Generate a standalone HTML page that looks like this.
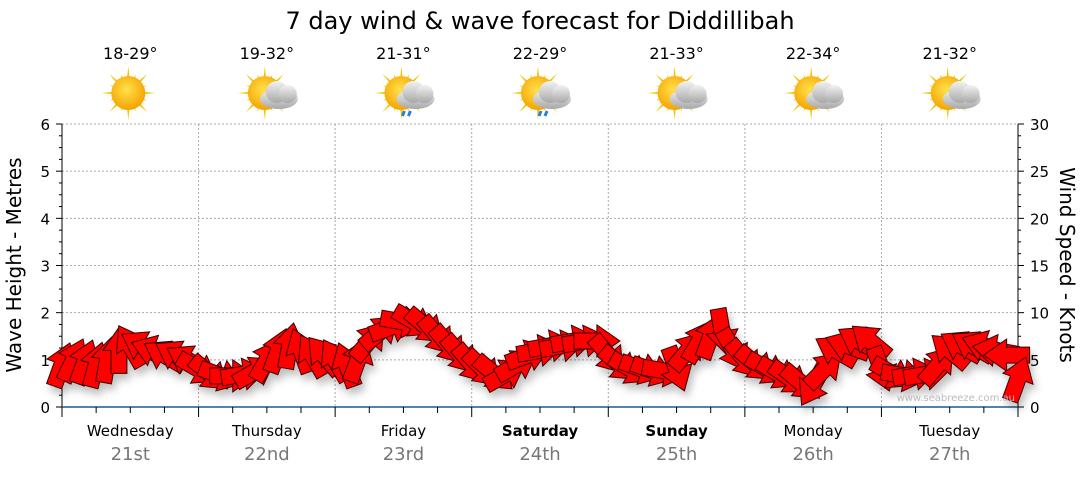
<!DOCTYPE html>
<html><head><meta charset="utf-8"><style>
body{margin:0;background:#fff;font-family:"Liberation Sans",sans-serif;}
svg text{font-family:"DejaVu Sans","Liberation Sans",sans-serif;}
</style></head><body>
<svg id="c" width="1080" height="475" viewBox="0 0 1080 475" xmlns="http://www.w3.org/2000/svg">
<defs>
<filter id="sh" x="-50%" y="-50%" width="200%" height="200%"><feDropShadow dx="3" dy="6" stdDeviation="4" flood-color="#000" flood-opacity="0.25"/></filter>
<radialGradient id="sun" cx="45%" cy="40%" r="60%"><stop offset="0" stop-color="#ffe14a"/><stop offset="1" stop-color="#f5a300"/></radialGradient>
<linearGradient id="cloud" x1="0" y1="0" x2="0" y2="1"><stop offset="0" stop-color="#f2f2f2"/><stop offset="1" stop-color="#a8a8a8"/></linearGradient>
</defs>
<text x="540" y="29" font-size="24" text-anchor="middle">7 day wind &amp; wave forecast for Diddillibah</text>
<g id="grid"></g><g id="axes"></g><g id="top"></g><g id="arrows" filter="url(#sh)"></g>
<text x="1015" y="401" font-size="10" fill="#bbb" text-anchor="end">www.seabreeze.com.au</text>
<text transform="translate(21,265) rotate(-90)" font-size="20" text-anchor="middle">Wave Height - Metres</text>
<text transform="translate(1060,265) rotate(90)" font-size="20" text-anchor="middle">Wind Speed - Knots</text>
</svg>
<script>
const days=["Wednesday","Thursday","Friday","Saturday","Sunday","Monday","Tuesday"];
const dates=["21st","22nd","23rd","24th","25th","26th","27th"];
const temps=["18-29°","19-32°","21-31°","22-29°","21-33°","22-34°","21-32°"];
const icons=["sun","cloud","rain","rain","cloud","cloud","cloud"];
const waveTicks=[0,1,2,3,4,5,6];
const windTicks=[0,5,10,15,20,25,30];
const windSpeed=[4.5,5,4.8,4.5,5,6,6.5,6.5,6,5.5,5.5,5,
4,3.5,3.3,3.3,3.5,3.8,5,6,6.5,6,5.5,5.5,
5,4.5,5,7,8,8.5,9,9,8.5,7.5,6.5,5.5,
4.5,4,3.5,3.5,4.5,5.5,6,6.5,6.5,7,7,7,
5.5,4.5,4,4,3.8,3.8,4,6,7,7.5,8,6,
5,4.5,4,3.5,3,2.5,2.3,4,6,6.5,7,7,
4,3.5,3.3,3.5,3.5,4.5,6,6.5,6.5,6.5,6,5.5,3];
const windDir=[20,25,20,15,10,0,-30,-60,-70,-60,-60,-60,
120,130,110,90,80,60,30,20,10,-20,-30,-40,
-30,-20,20,40,50,70,100,120,130,140,140,140,
140,135,130,60,60,70,80,80,80,80,80,90,
140,130,120,110,110,100,160,40,30,20,170,150,
140,130,120,120,125,130,210,45,-60,-70,-60,-50,
160,120,100,80,80,40,-50,-60,-60,-70,-80,-90,20];
const NS="http://www.w3.org/2000/svg";
const X0=62,X1=1018,Y0=407,Y1=124;
const xDay=d=>X0+d*(X1-X0)/7;
const xStep=i=>X0+i*(X1-X0)/84;
const yWave=v=>Y0-v*(Y0-Y1)/6;
const yWind=v=>Y0-v*(Y0-Y1)/30;
function mk(t,a,p){const e=document.createElementNS(NS,t);for(const k in a)e.setAttribute(k,a[k]);if(p)p.appendChild(e);return e;}
const grid=document.getElementById('grid'),axes=document.getElementById('axes'),top_=document.getElementById('top'),arr=document.getElementById('arrows');
waveTicks.forEach(v=>{
 if(v>0){const g=mk('line',{x1:X0,x2:X1,y1:yWave(v),y2:yWave(v),stroke:'#aaa','stroke-dasharray':'2,2'},grid);
 
 }
 const t=mk('text',{x:50,y:yWave(v)+6,'font-size':15,'text-anchor':'end'},axes);t.textContent=v;
 
 
});
for(let v=0;v<=6;v+=0.25){mk('line',{x1:X0-(v%1==0?6:3),x2:X0,y1:yWave(v),y2:yWave(v),stroke:'#000'},axes);}
windTicks.forEach(v=>{
 const t=mk('text',{x:1030,y:yWind(v)+6,'font-size':15},axes);t.textContent=v;
 
 
});
for(let v=0;v<=30;v+=1.25){mk('line',{x1:X1,x2:X1+(v%5==0?6:3),y1:yWind(v),y2:yWind(v),stroke:'#000'},axes);}
mk('line',{x1:X0,x2:X0,y1:Y1,y2:Y0,stroke:'#000'},axes);
mk('line',{x1:X1,x2:X1,y1:Y1,y2:Y0,stroke:'#000'},axes);
mk('line',{x1:X0,x2:X1,y1:Y0,y2:Y0,stroke:'#1f5a85','stroke-width':1.5},axes);
for(let i=0;i<=28;i++){const x=X0+i*(X1-X0)/28;mk('line',{x1:x,x2:x,y1:Y0,y2:Y0+(i%4==0?10:6),stroke:'#000'},axes);}
function icon(cx,cy,type,g){
 for(let k=0;k<16;k++){const a=k*Math.PI/8,r=k%2?20:27;mk('polygon',{points:`${cx+Math.cos(a-0.13)*12},${cy+Math.sin(a-0.13)*12} ${cx+Math.cos(a)*r},${cy+Math.sin(a)*r} ${cx+Math.cos(a+0.13)*12},${cy+Math.sin(a+0.13)*12}`,fill:'#f2c400'},g);}
 mk('circle',{cx,cy,r:17,fill:'url(#sun)'},g);
 if(type!='sun'){mk('ellipse',{cx:cx+14,cy:cy+6,rx:19,ry:10,fill:'url(#cloud)'},g);mk('circle',{cx:cx+12,cy:cy-1,r:11,fill:'url(#cloud)'},g);mk('circle',{cx:cx+23,cy:cy+1,r:9,fill:'url(#cloud)'},g);}
 if(type=='rain'){mk('path',{d:`M${cx+3} ${cy+18}l-2 5M${cx+9} ${cy+18}l-2 5`,stroke:'#2a7fd0','stroke-width':3},g);}
}
days.forEach((d,i)=>{
 const cx=(xDay(i)+xDay(i+1))/2;
 if(i>0){const l=mk('line',{x1:xDay(i),x2:xDay(i),y1:Y1,y2:Y0,stroke:'#aaa','stroke-dasharray':'2,2'},grid);
 
 }
 const bold=(d=="Saturday"||d=="Sunday");
 const t=mk('text',{x:cx,y:436,'font-size':15,'text-anchor':'middle','font-weight':bold?'bold':'normal'},axes);t.textContent=d;
 
 
 const t2=mk('text',{x:cx,y:460,'font-size':18,fill:'#777','text-anchor':'middle'},axes);t2.textContent=dates[i];
 
 
 const t3=mk('text',{x:cx,y:59,'font-size':16,'text-anchor':'middle'},top_);t3.textContent=temps[i];
 
 
 const g=mk('g',{},top_);
 
 
 icon(cx-2,93,icons[i],g);
});
windSpeed.forEach((v,i)=>{
 const x=xStep(i),y=yWind(v);
 const p=mk('polygon',{points:'-8,23 8,23 8,0 16,0 0,-23 -16,0 -8,0',fill:'#ff0000',stroke:'#3a0000','stroke-width':1,transform:`translate(${x},${y}) rotate(${windDir[i]})`},arr);
 
 
});
</script>
</body></html>
